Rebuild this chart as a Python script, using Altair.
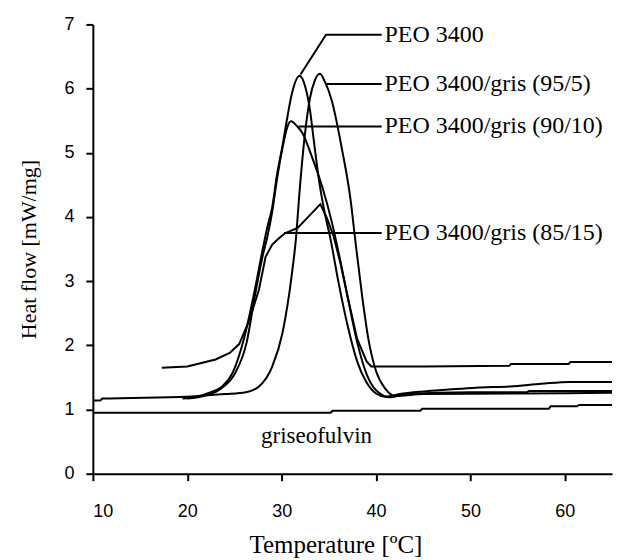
import altair as alt
import pandas as pd

# ---- data ----
peo_x = [19.5, 21.0, 22.5, 23.7, 24.8, 26.0, 27.0, 28.0, 28.5, 29.0, 29.5, 30.1, 30.6, 31.1, 31.9,
         32.5, 33.0, 33.4, 33.9, 34.5, 35.2, 36.0, 37.0, 38.0, 39.0, 40.0, 41.0, 42.5, 45.0,
         47.7, 50.6, 54.2, 57.5, 60.5, 65.0]
peo_y = [1.17, 1.20, 1.27, 1.36, 1.57, 2.10, 2.75, 3.50, 3.85, 4.15, 4.65, 5.12, 5.55, 5.93, 6.20,
         6.03, 5.67, 5.20, 4.63, 4.11, 3.64, 3.00, 2.30, 1.75, 1.42, 1.25, 1.20, 1.24, 1.28,
         1.31, 1.34, 1.36, 1.40, 1.43, 1.43]

g95_x = [10.0, 10.8, 11.0, 20.0, 24.0, 26.2, 27.6, 29.0, 30.1, 31.1, 31.5, 31.9, 32.4, 33.0, 33.5,
         34.05, 34.6, 35.3, 36.4, 37.3, 37.8, 38.5, 39.2, 40.0, 41.0, 42.0, 43.0, 45.0, 55.0, 65.0]
g95_y = [1.14, 1.14, 1.17, 1.20, 1.24, 1.27, 1.36, 1.67, 2.20, 3.13, 3.64, 4.40, 5.20, 5.85, 6.12,
         6.23, 6.10, 5.82, 5.05, 4.27, 3.64, 2.80, 2.09, 1.60, 1.32, 1.21, 1.22, 1.24, 1.25, 1.26]

g90_x = [20.0, 22.0, 23.7, 25.0, 26.3, 27.2, 28.0, 28.5, 29.0, 29.5, 30.1, 30.6, 31.0, 31.6,
         32.2, 33.2, 34.3, 35.35, 36.2, 37.0, 38.0, 39.0, 40.0, 41.5, 43.0, 50.0, 56.0, 56.2, 60.0, 65.0]
g90_y = [1.17, 1.22, 1.34, 1.55, 2.05, 2.80, 3.40, 3.70, 4.08, 4.58, 5.08, 5.40, 5.49, 5.42,
         5.31, 4.94, 4.47, 3.90, 3.33, 2.75, 2.05, 1.55, 1.30, 1.19, 1.24, 1.27, 1.27, 1.29, 1.29, 1.29]

g85_x = [17.3, 20.0, 23.0, 24.5, 25.5, 26.6, 27.6, 28.3, 29.0, 29.8, 30.4, 31.7, 34.1, 34.8, 35.5,
         36.2, 37.0, 38.0, 39.0, 39.5, 45.0, 54.1, 54.3, 60.4, 60.6, 65.0]
g85_y = [1.65, 1.67, 1.78, 1.88, 2.02, 2.40, 2.87, 3.38, 3.57, 3.68, 3.75, 3.83, 4.20, 3.98, 3.70,
         3.30, 2.75, 2.10, 1.75, 1.67, 1.67, 1.68, 1.71, 1.71, 1.74, 1.74]

gris_x = [10.0, 35.2, 35.4, 44.7, 44.9, 58.3, 58.5, 61.3, 61.5, 65.0]
gris_y = [0.95, 0.95, 0.98, 0.98, 1.01, 1.01, 1.05, 1.05, 1.07, 1.07]

series_names = ["PEO 3400", "PEO 3400/gris (95/5)", "PEO 3400/gris (90/10)",
                "PEO 3400/gris (85/15)", "griseofulvin"]
smooth_series = ["PEO 3400", "PEO 3400/gris (95/5)", "PEO 3400/gris (90/10)"]

# label leaders (data coordinates)
leader_ids = ["PEO 3400", "PEO 3400", "PEO 3400", "95/5", "95/5", "90/10", "90/10", "85/15", "85/15"]
leader_x = [32.0, 34.7, 40.6, 34.65, 40.6, 31.8, 40.6, 30.25, 40.6]
leader_y = [6.22, 6.84, 6.84, 6.07, 6.07, 5.41, 5.41, 3.75, 3.75]
leader_order = [0, 1, 2, 0, 1, 0, 1, 0, 1]

label_text = ["PEO 3400", "PEO 3400/gris (95/5)", "PEO 3400/gris (90/10)",
              "PEO 3400/gris (85/15)", "griseofulvin"]
label_x = [40.9, 40.9, 40.9, 40.9, 33.7]
label_y = [6.84, 6.07, 5.41, 3.75, 0.58]
label_align = ["left", "left", "left", "left", "center"]

# ---- build tables ----
rows = []
for name, xs, ys in zip(series_names, [peo_x, g95_x, g90_x, g85_x, gris_x],
                        [peo_y, g95_y, g90_y, g85_y, gris_y]):
    for i, (a, b) in enumerate(zip(xs, ys)):
        rows.append({"series": name, "T": a, "H": b, "o": i})
curves = pd.DataFrame(rows)
smooth = curves[curves["series"].isin(smooth_series)]
straight = curves[~curves["series"].isin(smooth_series)]

leaders = pd.DataFrame({"id": leader_ids, "T": leader_x, "H": leader_y, "o": leader_order})
labels = pd.DataFrame({"text": label_text, "T": label_x, "H": label_y, "align": label_align})

serif = "Liberation Serif"

xscale = alt.Scale(domain=[10, 65], nice=False, zero=False)
yscale = alt.Scale(domain=[0, 7], nice=False)

x_enc = alt.X("T:Q", scale=xscale,
              axis=alt.Axis(title="Temperature [ºC]", values=[10, 20, 30, 40, 50, 60],
                            format="d",
                            grid=False, domainColor="black", domainWidth=2,
                            tickColor="black", tickWidth=2, tickSize=7,
                            labelFont="Liberation Sans", labelFontSize=18, labelColor="black",
                            labelPadding=22, titleFont=serif, titleFontSize=25,
                            titleFontWeight="normal", titleColor="black",
                            titleX=243, titleY=79, titleBaseline="alphabetic"))
y_enc = alt.Y("H:Q", scale=yscale,
              axis=alt.Axis(title="Heat flow [mW/mg]", values=[0, 1, 2, 3, 4, 5, 6, 7],
                            format="d",
                            grid=False, domainColor="black", domainWidth=2,
                            tickColor="black", tickWidth=2, tickSize=7,
                            labelFont="Liberation Sans", labelFontSize=18, labelColor="black",
                            labelPadding=12, titleFont=serif, titleFontSize=22,
                            titleFontWeight="normal", titleColor="black", titlePadding=23))

lines_smooth = alt.Chart(smooth).mark_line(color="black", strokeWidth=2, interpolate="monotone").encode(
    x=x_enc, y=y_enc, detail="series:N", order="o:Q")
lines_straight = alt.Chart(straight).mark_line(color="black", strokeWidth=2).encode(
    x="T:Q", y="H:Q", detail="series:N", order="o:Q")

lead = alt.Chart(leaders).mark_line(color="black", strokeWidth=2).encode(
    x="T:Q", y="H:Q", detail="id:N", order="o:Q")

txt_left = alt.Chart(labels[labels["align"] == "left"]).mark_text(
    align="left", baseline="middle", font=serif, fontSize=24, color="black").encode(
    x="T:Q", y="H:Q", text="text:N")
txt_center = alt.Chart(labels[labels["align"] == "center"]).mark_text(
    align="center", baseline="middle", font=serif, fontSize=23, color="black").encode(
    x="T:Q", y="H:Q", text="text:N")

chart = alt.layer(lines_smooth, lines_straight, lead, txt_left, txt_center).properties(
    width=520, height=450,
    autosize=alt.AutoSizeParams(type="none"),
    padding={"left": 85, "top": 16, "right": 5, "bottom": 86},
).configure_view(stroke=None)

chart.save("out.html", embed_options={"renderer": "svg", "actions": False})
